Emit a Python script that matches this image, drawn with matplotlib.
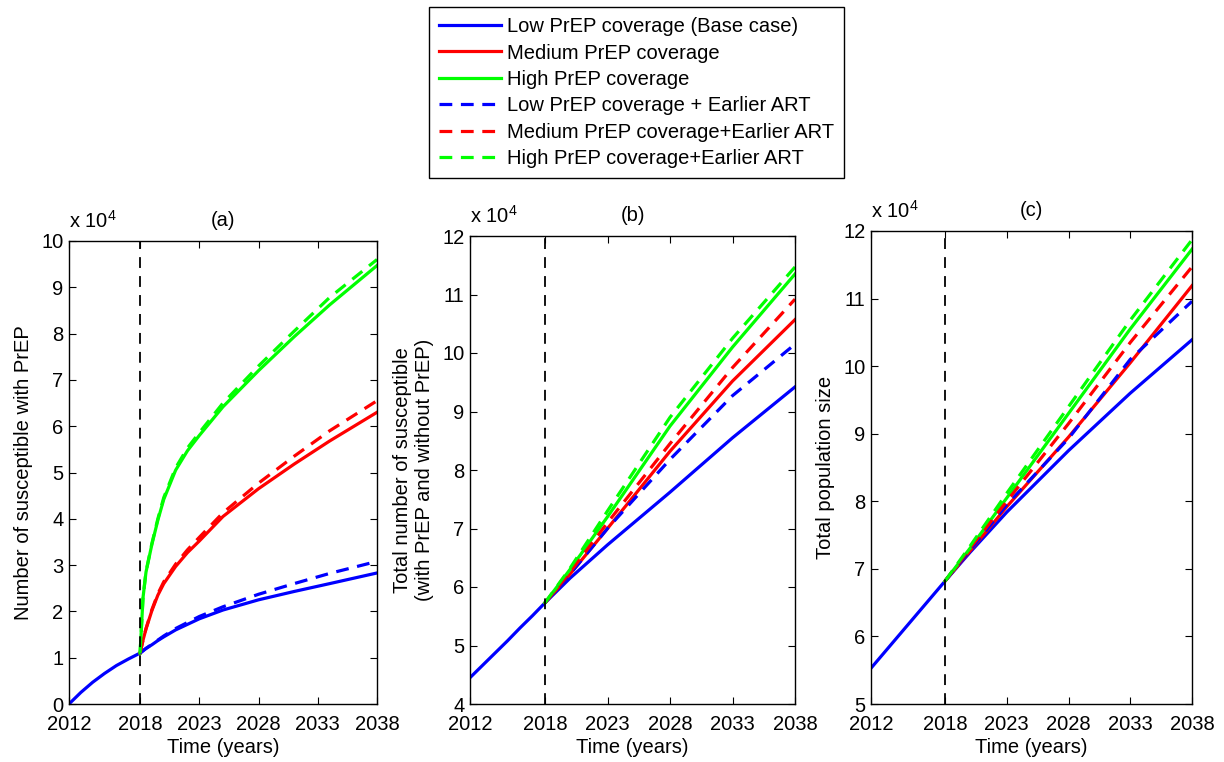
import matplotlib
matplotlib.use("Agg")
import matplotlib.pyplot as plt
from matplotlib.lines import Line2D

plt.rcParams['font.family'] = ['Liberation Sans', 'DejaVu Sans']
plt.rcParams['font.size'] = 14.5
plt.rcParams['mathtext.default'] = 'regular'

# time axes
years_pre = [2012, 2013, 2014, 2015, 2016, 2017, 2018]
years_post_a = [2018, 2018.25, 2018.5, 2019, 2019.5, 2020, 2021, 2022, 2023,
                2025, 2028, 2031, 2034, 2038]
years_post_bc = [2018, 2020, 2023, 2028, 2033, 2038]
xticks = [2012, 2018, 2023, 2028, 2033, 2038]

# (a) susceptible with PrEP, x 10^4
a_pre = [0, 0.25, 0.47, 0.66, 0.83, 0.97, 1.1]
a_low = [1.1, 1.15, 1.2, 1.28, 1.37, 1.45, 1.6, 1.72, 1.84, 2.03, 2.25, 2.43, 2.6, 2.83]
a_med = [1.1, 1.38, 1.62, 2.02, 2.35, 2.6, 2.97, 3.27, 3.52, 4.05, 4.65, 5.18, 5.68, 6.3]
a_high = [1.1, 2.3, 2.85, 3.45, 3.97, 4.42, 5.05, 5.47, 5.8, 6.42, 7.2, 7.93, 8.62, 9.47]
a_low_art = [1.1, 1.15, 1.2, 1.29, 1.38, 1.47, 1.63, 1.76, 1.89, 2.1, 2.37, 2.6, 2.82, 3.08]
a_med_art = [1.1, 1.38, 1.63, 2.04, 2.38, 2.64, 3.02, 3.33, 3.6, 4.13, 4.77, 5.35, 5.9, 6.55]
a_high_art = [1.1, 2.3, 2.86, 3.47, 4.0, 4.46, 5.1, 5.53, 5.86, 6.5, 7.3, 8.05, 8.78, 9.6]

# (b) total susceptible, x 10^4
b_pre = [4.45, 4.66, 4.87, 5.08, 5.3, 5.51, 5.73]
b_low = [5.73, 6.15, 6.72, 7.62, 8.55, 9.42]
b_med = [5.73, 6.22, 7.0, 8.32, 9.52, 10.57]
b_high = [5.73, 6.3, 7.2, 8.75, 10.1, 11.35]
b_low_art = [5.73, 6.22, 7.0, 8.18, 9.27, 10.15]
b_med_art = [5.73, 6.25, 7.1, 8.45, 9.75, 10.92]
b_high_art = [5.73, 6.32, 7.3, 8.9, 10.25, 11.47]

# (c) total population, x 10^4
c_pre = [5.53, 5.745, 5.96, 6.175, 6.39, 6.605, 6.82]
c_low = [6.82, 7.24, 7.84, 8.75, 9.6, 10.39]
c_med = [6.82, 7.26, 7.92, 8.95, 10.05, 11.19]
c_high = [6.82, 7.3, 8.05, 9.3, 10.55, 11.73]
c_low_art = [6.82, 7.27, 7.95, 8.93, 10.1, 10.96]
c_med_art = [6.82, 7.3, 8.0, 9.15, 10.35, 11.47]
c_high_art = [6.82, 7.33, 8.12, 9.4, 10.68, 11.87]

labels = ['Low PrEP coverage (Base case)', 'Medium PrEP coverage', 'High PrEP coverage',
          'Low PrEP coverage + Earlier ART', 'Medium PrEP coverage+Earlier ART',
          'High PrEP coverage+Earlier ART']
colors = ['#0000ff', '#ff0000', '#00ff00']
LW = 2.3
DASH = (4, 2.7)

panels = [
    dict(pos=[69, 241, 377, 704], title='(a)', ylim=(0, 10), yticks=range(0, 11),
         ylabel='Number of susceptible with PrEP', t=years_post_a, pre=a_pre,
         solid=[a_low, a_med, a_high], dashed=[a_low_art, a_med_art, a_high_art]),
    dict(pos=[470, 236, 795, 704], title='(b)', ylim=(4, 12), yticks=range(4, 13),
         ylabel='Total number of susceptible\n(with PrEP and without PrEP)', t=years_post_bc,
         pre=b_pre, solid=[b_low, b_med, b_high], dashed=[b_low_art, b_med_art, b_high_art]),
    dict(pos=[871, 231, 1192, 704], title='(c)', ylim=(5, 12), yticks=range(5, 13),
         ylabel='Total population size', t=years_post_bc, pre=c_pre,
         solid=[c_low, c_med, c_high], dashed=[c_low_art, c_med_art, c_high_art]),
]

W, H = 1224, 762
fig = plt.figure(figsize=(W / 100, H / 100), dpi=100)

for p in panels:
    x0, y0, x1, y1 = p['pos']
    ax = fig.add_axes([x0 / W, 1 - y1 / H, (x1 - x0) / W, (y1 - y0) / H])
    t = p['t']
    # base case includes the pre-2018 history
    ax.plot(years_pre + t[1:], p['pre'] + p['solid'][0][1:], color=colors[0], lw=LW)
    for vals, c in zip(p['solid'][1:], colors[1:]):
        ax.plot(t, vals, color=c, lw=LW)
    for vals, c in zip(p['dashed'], colors):
        ax.plot(t, vals, color=c, lw=LW, dashes=DASH)
    ax.axvline(2018, color='black', lw=1.3, dashes=(6, 4.5))
    ax.set_xlim(2012, 2038)
    ax.set_ylim(*p['ylim'])
    ax.set_xticks(xticks)
    ax.set_yticks(list(p['yticks']))
    ax.tick_params(direction='in', top=True, right=True, length=5, width=0.8)
    ax.tick_params(axis='x', pad=8)
    ax.tick_params(axis='y', pad=4)
    for s in ax.spines.values():
        s.set_linewidth(1.0)
    ax.set_xlabel('Time (years)', labelpad=3)
    ax.set_ylabel(p['ylabel'], labelpad=6)
    ax.set_title(p['title'], pad=11, fontsize=14.5)
    ax.text(0, 1.02, r'x 10$^{4}$', transform=ax.transAxes, ha='left', va='bottom')

handles = [Line2D([], [], color=c, lw=LW) for c in colors] + \
          [Line2D([], [], color=c, lw=LW, dashes=DASH) for c in colors]
leg = fig.legend(handles, labels, loc='upper center', bbox_to_anchor=(636.5 / W, 1 - 7 / H),
                 frameon=True, fancybox=False, edgecolor='black', framealpha=1,
                 handlelength=3.1, handletextpad=0.3, labelspacing=0.37, borderpad=0.5,
                 borderaxespad=0)
leg.get_frame().set_linewidth(1.0)

fig.savefig('out.png', dpi=100)
